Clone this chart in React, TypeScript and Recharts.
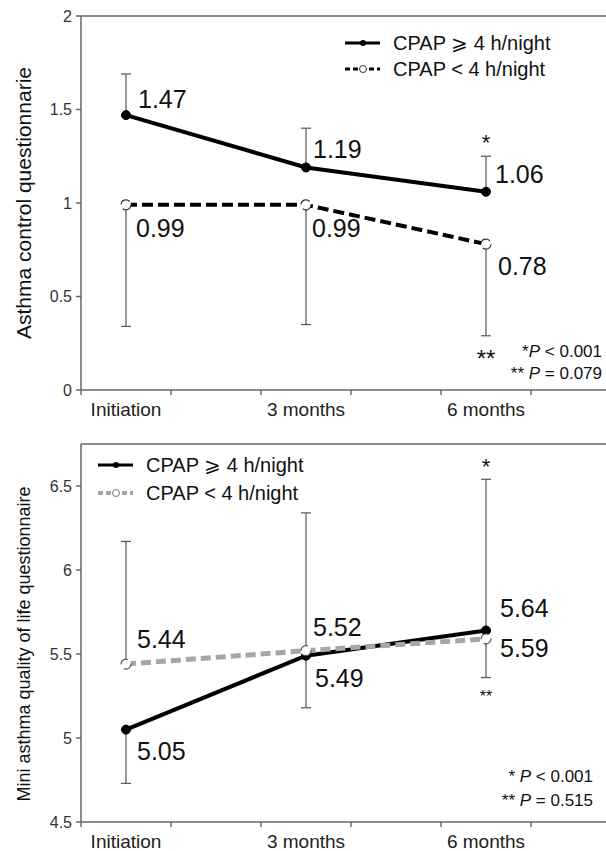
import React from 'react';
import { LineChart, Line, XAxis, YAxis, ErrorBar, LabelList, ReferenceLine, ReferenceDot } from 'recharts';

// ---------- data ----------
const categories = ['Initiation', '3 months', '6 months'];

// Asthma control questionnaire
const acqHigh = [1.47, 1.19, 1.06];        // CPAP >= 4 h/night (mean)
const acqHighUpper = [1.69, 1.4, 1.25];    // upper end of error bar
const acqLow = [0.99, 0.99, 0.78];         // CPAP < 4 h/night (mean)
const acqLowLower = [0.34, 0.35, 0.29];    // lower end of error bar
const acqTicks = [0, 0.5, 1, 1.5, 2];
const acqDomain = [0, 2];

// Mini asthma quality of life questionnaire
const mqHigh = [5.05, 5.49, 5.64];
const mqHighLower = [4.73, 5.18, 5.36];
const mqLow = [5.44, 5.52, 5.59];
const mqLowUpper = [6.17, 6.34, 6.54];
const mqTicks = [4.5, 5, 5.5, 6, 6.5];
const mqDomain = [4.5, 6.75];

const seriesNames = ['CPAP \u2A7E 4 h/night', 'CPAP < 4 h/night'];
const notesA = [['*', 'P', ' < 0.001'], ['** ', 'P', ' = 0.079']];
const notesB = [['* ', 'P', ' < 0.001'], ['** ', 'P', ' = 0.515']];

// ---------- layout / style ----------
const FONT = '"Liberation Sans", Arial, Helvetica, sans-serif';
const AXIS = '#666';
const SLOTS = 6;
const slot = (i: number) => i * 2 + 0.5;
const xTicks: number[] = [];
for (let t = 0; t <= SLOTS; t++) {
  xTicks.push(t);
  if (t < categories.length) xTicks.push(slot(t));
}
xTicks.sort((a, b) => a - b);

const acqData = categories.map((c, i) => ({
  x: slot(i),
  cat: c,
  hi: acqHigh[i],
  hiErr: [0, acqHighUpper[i] - acqHigh[i]],
  lo: acqLow[i],
  loErr: [acqLow[i] - acqLowLower[i], 0],
}));

const mqData = categories.map((c, i) => ({
  x: slot(i),
  cat: c,
  hi: mqHigh[i],
  hiErr: [mqHigh[i] - mqHighLower[i], 0],
  lo: mqLow[i],
  loErr: [0, mqLowUpper[i] - mqLow[i]],
}));

// label offsets (dx, dy) relative to the point
const offA_hi = [[12, -7], [7, -9], [9, -9]];
const offA_lo = [[10, 32], [6, 32], [12, 31]];
const offB_hi = [[11, 30], [9, 31], [14, -13]];
const offB_lo = [[11, -16], [7, -15], [14, 18]];

const valueLabel = (offs: number[][]) => (p: any) => {
  const o = offs[p.index] || [10, 0];
  return (
    <text x={p.x + o[0]} y={p.y + o[1]} fontSize={25} fontFamily={FONT} fill="#111">
      {Number(p.value).toFixed(2)}
    </text>
  );
};

const XTick = (p: any) => {
  const v = p.payload.value;
  if (Number.isInteger(v)) {
    return <line x1={p.x} x2={p.x} y1={p.y} y2={p.y + 5} stroke={AXIS} strokeWidth={1.5} />;
  }
  const idx = Math.round((v - 0.5) / 2);
  return (
    <text x={p.x} y={p.y + 26} textAnchor="middle" fontSize={19} fontFamily={FONT} fill="#222">
      {categories[idx]}
    </text>
  );
};

const yTitle = (text: string, size: number, cx: number, dy: number) => (p: any) => {
  const vb = p.viewBox || { x: 0, y: 0, width: 0, height: 0 };
  const cy = vb.y + vb.height / 2 + dy;
  return (
    <text
      x={cx}
      y={cy}
      transform={`rotate(-90, ${cx}, ${cy})`}
      textAnchor="middle"
      dominantBaseline="central"
      fontSize={size}
      fontFamily={FONT}
      fill="#111"
    >
      {text}
    </text>
  );
};

const mark = (text: string, size: number, dy: number) => (p: any) => {
  const vb = p.viewBox || { x: 0, y: 0 };
  return (
    <text x={vb.x} y={vb.y + dy} textAnchor="middle" fontSize={size} fontFamily={FONT} fill="#111">
      {text}
    </text>
  );
};

const axisLine = { stroke: AXIS, strokeWidth: 1.5 };
const yTick = { fontSize: 16, fill: '#333', fontFamily: FONT };
const CAP = 5;

function ChartA() {
  return (
    <LineChart width={640} height={430} data={acqData} margin={{ top: 16, right: 19, bottom: 0, left: 21 }}>
      <ReferenceLine y={acqDomain[1]} stroke={AXIS} strokeWidth={1.5} />
      <XAxis
        type="number"
        dataKey="x"
        domain={[0, SLOTS]}
        ticks={xTicks}
        interval={0}
        tickSize={0}
        tickMargin={0}
        tickLine={false}
        axisLine={axisLine}
        tick={(p: any) => <XTick {...p} />}
        height={40}
      />
      <YAxis
        type="number"
        domain={acqDomain}
        ticks={acqTicks}
        interval={0}
        width={60}
        tickSize={5}
        tickMargin={4}
        axisLine={axisLine}
        tickLine={axisLine}
        tick={yTick}
        label={yTitle('Asthma control questionnarie', 21, 23, 0)}
      />
      <Line
        type="linear"
        dataKey="hi"
        name={seriesNames[0]}
        stroke="#000"
        strokeWidth={4}
        dot={{ r: 4.5, fill: '#000', stroke: '#000', strokeWidth: 1 }}
        isAnimationActive={false}
      >
        <ErrorBar dataKey="hiErr" direction="y" width={CAP} stroke="#555" strokeWidth={1.2} isAnimationActive={false} />
        <LabelList dataKey="hi" content={valueLabel(offA_hi)} />
      </Line>
      <Line
        type="linear"
        dataKey="lo"
        name={seriesNames[1]}
        stroke="#000"
        strokeWidth={4}
        strokeDasharray="11 5"
        dot={{ r: 5, fill: '#fff', stroke: '#333', strokeWidth: 1.2 }}
        isAnimationActive={false}
      >
        <ErrorBar dataKey="loErr" direction="y" width={CAP} stroke="#555" strokeWidth={1.2} isAnimationActive={false} />
        <LabelList dataKey="lo" content={valueLabel(offA_lo)} />
      </Line>
      <ReferenceDot x={slot(2)} y={acqHighUpper[2]} r={0} stroke="none" fill="none" label={mark('*', 22, -6)} />
      <ReferenceDot x={slot(2)} y={acqLowLower[2]} r={0} stroke="none" fill="none" label={mark('**', 24, 31)} />
    </LineChart>
  );
}

function ChartB() {
  return (
    <LineChart width={640} height={432} data={mqData} margin={{ top: 14, right: 19, bottom: 0, left: 21 }}>
      <ReferenceLine y={mqDomain[1]} stroke={AXIS} strokeWidth={1.5} />
      <XAxis
        type="number"
        dataKey="x"
        domain={[0, SLOTS]}
        ticks={xTicks}
        interval={0}
        tickSize={0}
        tickMargin={0}
        tickLine={false}
        axisLine={axisLine}
        tick={(p: any) => <XTick {...p} />}
        height={40}
      />
      <YAxis
        type="number"
        domain={mqDomain}
        ticks={mqTicks}
        interval={0}
        width={60}
        tickSize={5}
        tickMargin={4}
        axisLine={axisLine}
        tickLine={axisLine}
        tick={yTick}
        label={yTitle('Mini asthma quality of life questionnaire', 18, 24, 11)}
      />
      <Line
        type="linear"
        dataKey="hi"
        name={seriesNames[0]}
        stroke="#000"
        strokeWidth={4}
        dot={{ r: 4.5, fill: '#000', stroke: '#000', strokeWidth: 1 }}
        isAnimationActive={false}
      >
        <ErrorBar dataKey="hiErr" direction="y" width={CAP} stroke="#555" strokeWidth={1.2} isAnimationActive={false} />
        <LabelList dataKey="hi" content={valueLabel(offB_hi)} />
      </Line>
      <Line
        type="linear"
        dataKey="lo"
        name={seriesNames[1]}
        stroke="#a6a6a6"
        strokeWidth={5}
        strokeDasharray="10 5"
        dot={{ r: 5, fill: '#fff', stroke: '#555', strokeWidth: 1.2 }}
        isAnimationActive={false}
      >
        <ErrorBar dataKey="loErr" direction="y" width={CAP} stroke="#555" strokeWidth={1.2} isAnimationActive={false} />
        <LabelList dataKey="lo" content={valueLabel(offB_lo)} />
      </Line>
      <ReferenceDot x={slot(2)} y={mqLowUpper[2]} r={0} stroke="none" fill="none" label={mark('*', 22, -5)} />
      <ReferenceDot x={slot(2)} y={mqHighLower[2]} r={0} stroke="none" fill="none" label={mark('**', 16, 24)} />
    </LineChart>
  );
}

function LegendRows({ x, y, gap, lo }: { x: number; y: number; gap: number; lo: { color: string; width: number; dash: string; stroke: string } }) {
  return (
    <g fontFamily={FONT} fontSize={20} fill="#111">
      <line x1={x} x2={x + 35} y1={y} y2={y} stroke="#000" strokeWidth={3} />
      <circle cx={x + 18} cy={y} r={3} fill="#000" />
      <text x={x + 48} y={y + 7}>{seriesNames[0]}</text>
      <line x1={x} x2={x + 35} y1={y + gap} y2={y + gap} stroke={lo.color} strokeWidth={lo.width} strokeDasharray={lo.dash} />
      <circle cx={x + 18} cy={y + gap} r={3.5} fill="#fff" stroke={lo.stroke} strokeWidth={1} />
      <text x={x + 48} y={y + gap + 7}>{seriesNames[1]}</text>
    </g>
  );
}

function Notes({ x, y, gap, rows }: { x: number; y: number; gap: number; rows: string[][] }) {
  return (
    <g fontFamily={FONT} fontSize={17} fill="#111">
      {rows.map((r, i) => (
        <text key={i} x={x} y={y + i * gap} textAnchor="end">
          <tspan>{r[0]}</tspan>
          <tspan fontStyle="italic">{r[1]}</tspan>
          <tspan>{r[2]}</tspan>
        </text>
      ))}
    </g>
  );
}

export default function App() {
  return (
    <div style={{ position: 'absolute', left: 0, top: 0, width: 606, height: 851, overflow: 'hidden', background: '#fff' }}>
      <div style={{ position: 'absolute', left: 0, top: 0 }}>
        <ChartA />
      </div>
      <div style={{ position: 'absolute', left: 0, top: 430 }}>
        <ChartB />
      </div>
      <svg width={606} height={851} style={{ position: 'absolute', left: 0, top: 0, pointerEvents: 'none' }}>
        <LegendRows x={345} y={43} gap={26} lo={{ color: '#000', width: 3, dash: '5 3', stroke: '#333' }} />
        <LegendRows x={98} y={465} gap={28} lo={{ color: '#a6a6a6', width: 4, dash: '5 3', stroke: '#777' }} />
        <Notes x={602} y={357} gap={22} rows={notesA} />
        <Notes x={593} y={782} gap={24} rows={notesB} />
      </svg>
    </div>
  );
}
